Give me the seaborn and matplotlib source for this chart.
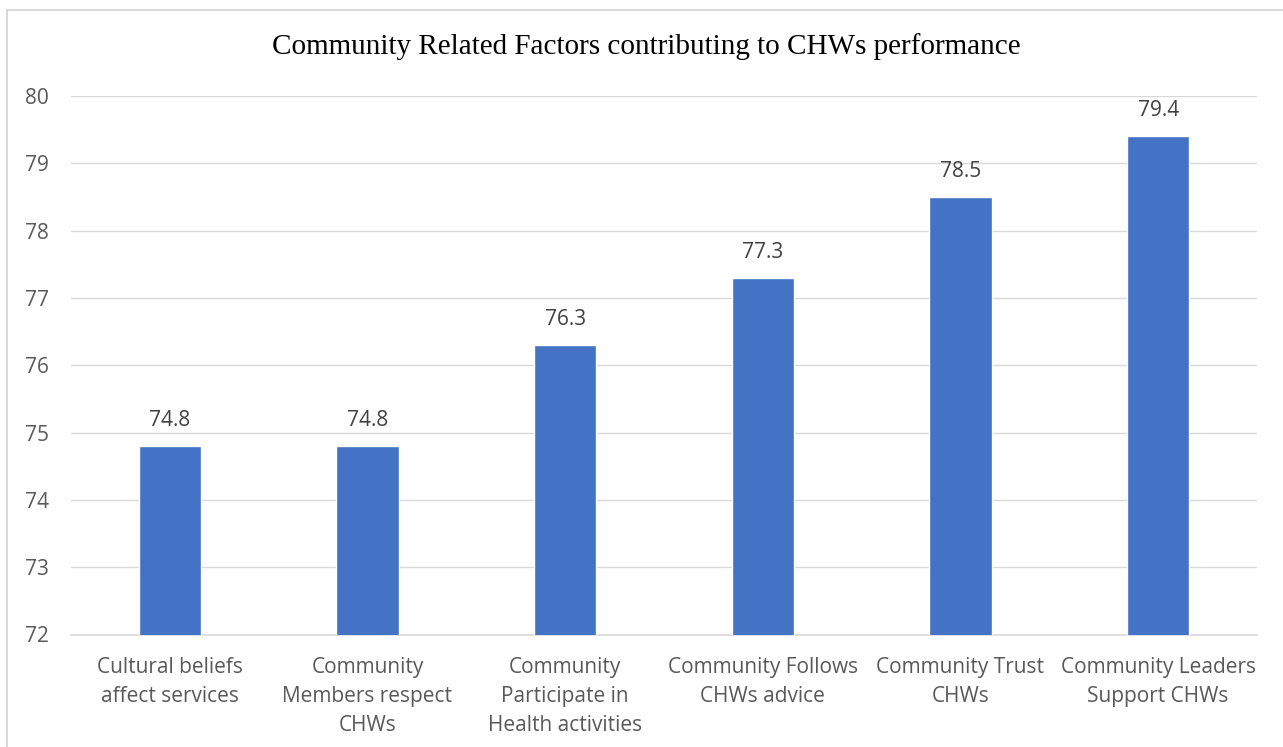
import matplotlib
matplotlib.use("Agg")
import matplotlib.pyplot as plt
import seaborn as sns
import pandas as pd
from matplotlib.patches import Rectangle

categories = [
    "Cultural beliefs\naffect services",
    "Community\nMembers respect\nCHWs",
    "Community\nParticipate in\nHealth activities",
    "Community Follows\nCHWs advice",
    "Community Trust\nCHWs",
    "Community Leaders\nSupport CHWs",
]
values = [74.8, 74.8, 76.3, 77.3, 78.5, 79.4]
yticks = [72, 73, 74, 75, 76, 77, 78, 79, 80]
title = "Community Related Factors contributing to CHWs performance"

df = pd.DataFrame({"cat": categories, "val": values})

sns.set_style("white")
plt.rcParams["font.family"] = ["Open Sans", "DejaVu Sans"]

fig = plt.figure(figsize=(12.83, 7.47), dpi=100)
ax = fig.add_axes([71 / 1283, 1 - 634.5 / 747, 1186 / 1283, (634.5 - 96) / 747])

sns.barplot(data=df, x="cat", y="val", color="#4472C4", width=0.314,
            saturation=1, ax=ax, zorder=3)

ax.set_ylim(72, 80)
ax.set_yticks(yticks)
ax.set_yticklabels([str(t) for t in yticks], fontsize=15, color="#595959")
ax.set_xticks(range(len(categories)))
ax.set_xticklabels(categories, fontsize=15, color="#595959", linespacing=1.5)
ax.tick_params(axis="y", length=0, pad=16)
ax.tick_params(axis="x", length=0, pad=16)
ax.set_xlabel("")
ax.set_ylabel("")
ax.grid(axis="y", color="#D9D9D9", linewidth=1, zorder=0)
for s in ["top", "right", "left"]:
    ax.spines[s].set_visible(False)
ax.spines["bottom"].set_color("#D9D9D9")
ax.spines["bottom"].set_linewidth(1.2)
ax.set_xlim(-0.5, len(categories) - 0.5)

for i, v in enumerate(values):
    ax.annotate(f"{v}", (i, v), xytext=(0, 18.5), textcoords="offset points",
                ha="center", va="center", fontsize=15, color="#404040")

fig.text(646 / 1283, 1 - 47 / 747, title, ha="center", va="center", fontsize=21,
         family=["Liberation Serif"], color="black")

fig.patches.append(Rectangle((7 / 1283, -0.01), 1.0, 1 - 10 / 747 + 0.01,
                             transform=fig.transFigure, fill=False,
                             edgecolor="#D9D9D9", linewidth=1.5))

fig.savefig("out.png", dpi=100)
